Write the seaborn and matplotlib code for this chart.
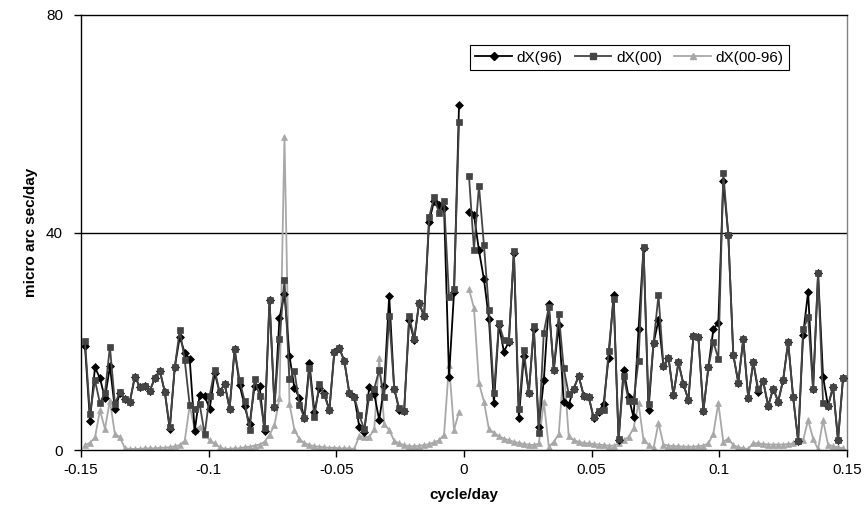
import numpy as np
import pandas as pd
import matplotlib
matplotlib.use("Agg")
import matplotlib.pyplot as plt
import seaborn as sns
from matplotlib.lines import Line2D

# frequency bin index (spacing 1/512 cycle/day), bin 0 missing
bin_index = list(range(-76, 77))

dx96 = [19.1, 5.4, 15.2, 13.2, 9.5, 15.4, 7.5, 10.4, 9.4, 8.9,
        13.5, 11.6, 11.8, 10.9, 13.2, 14.6, 10.7, 3.8, 15.2, 20.8,
        17.9, 16.7, 3.5, 10.2, 10.0, 7.5, 14.2, 10.6, 12.2, 7.6,
        18.5, 12.0, 8.1, 4.7, 11.7, 11.8, 3.5, 27.6, 8.0, 24.3,
        28.7, 17.3, 11.4, 9.6, 5.8, 16.0, 7.0, 11.4, 10.5, 7.3,
        18.0, 18.7, 16.4, 10.5, 9.8, 4.3, 3.4, 11.6, 10.3, 5.5,
        11.8, 28.4, 11.3, 7.4, 7.2, 23.9, 20.2, 27.0, 24.6, 42.0,
        45.8, 45.0, 44.5, 13.5, 29.0, 63.4, np.nan,
        43.8, 43.2, 36.7, 31.4, 24.1, 8.6, 23.0, 18.1, 19.9, 36.3,
        5.9, 17.2, 10.5, 22.2, 4.3, 12.8, 26.8, 14.7, 23.0, 8.9,
        8.3, 11.3, 13.6, 10.0, 9.8, 5.8, 7.0, 8.5, 17.0, 28.5,
        1.8, 14.8, 9.8, 6.0, 22.2, 37.1, 7.4, 19.6, 23.9, 15.4,
        17.0, 10.1, 16.1, 12.1, 9.2, 20.9, 20.7, 7.2, 15.2, 22.2,
        23.4, 49.5, 39.5, 17.5, 12.4, 20.4, 9.5, 16.2, 10.7, 12.6,
        8.1, 11.3, 8.9, 12.9, 19.9, 9.7, 1.7, 21.2, 29.1, 11.2,
        32.5, 13.4, 8.1, 11.6, 1.8, 13.2]

dx00 = [20.0, 6.6, 12.8, 8.6, 10.5, 19.0, 8.5, 10.7, 9.4, 8.9,
        13.5, 11.6, 11.8, 10.9, 13.2, 14.6, 10.7, 4.2, 15.2, 22.1,
        16.5, 8.2, 7.5, 8.4, 2.9, 10.0, 14.8, 10.6, 12.2, 7.6,
        18.5, 12.8, 9.1, 3.6, 13.0, 10.0, 4.0, 27.6, 8.0, 20.4,
        31.3, 13.0, 14.5, 8.3, 5.8, 15.0, 6.1, 12.2, 10.1, 7.3,
        18.1, 18.7, 16.4, 10.5, 9.8, 6.4, 3.8, 9.8, 11.3, 14.7,
        9.8, 24.6, 11.3, 7.7, 7.2, 24.6, 20.5, 27.1, 24.6, 42.8,
        46.5, 43.6, 45.8, 28.1, 29.6, 60.3, np.nan,
        50.4, 36.8, 48.6, 37.7, 25.8, 10.5, 23.3, 20.2, 20.0, 36.6,
        7.5, 18.4, 10.5, 22.8, 3.2, 21.6, 26.3, 14.7, 25.0, 15.0,
        10.3, 11.3, 13.6, 10.0, 9.8, 6.0, 7.2, 7.4, 18.2, 27.7,
        2.0, 13.6, 9.1, 9.1, 16.4, 37.4, 8.5, 19.7, 28.5, 15.4,
        17.0, 10.1, 16.1, 12.1, 9.2, 20.9, 20.7, 7.2, 15.2, 19.9,
        16.8, 51.0, 39.5, 17.5, 12.4, 20.4, 9.5, 16.2, 11.2, 12.6,
        8.1, 11.3, 8.9, 12.9, 19.9, 9.7, 1.7, 22.2, 24.4, 11.2,
        32.5, 8.6, 8.1, 11.6, 1.8, 13.2]

dx0096 = [0.9, 1.3, 2.3, 7.3, 3.9, 9.1, 2.9, 2.4, 0.3, 0.2,
          0.2, 0.2, 0.3, 0.3, 0.3, 0.4, 0.4, 0.5, 0.7, 0.9,
          1.7, 8.2, 3.7, 4.3, 2.8, 1.8, 1.2, 0.5, 0.2, 0.2,
          0.3, 0.3, 0.5, 0.6, 0.8, 1.0, 1.5, 2.8, 4.6, 9.5,
          57.6, 8.5, 3.7, 2.0, 1.3, 0.9, 0.7, 0.6, 0.5, 0.4,
          0.4, 0.3, 0.3, 0.3, 0.2, 2.6, 2.4, 2.4, 3.8, 17.0,
          4.7, 3.7, 1.7, 1.2, 0.9, 0.7, 0.7, 0.8, 0.9, 1.1,
          1.4, 1.8, 2.8, 15.7, 3.7, 7.0, np.nan,
          29.6, 26.1, 12.3, 8.9, 3.8, 3.2, 2.5, 2.1, 1.8, 1.5,
          1.3, 1.1, 1.0, 0.9, 1.2, 8.9, 0.6, 1.5, 2.9, 15.3,
          2.5, 1.8, 1.5, 1.3, 1.2, 1.1, 1.0, 0.9, 0.8, 0.8,
          1.2, 1.8, 2.4, 4.0, 8.6, 1.8, 1.0, 0.3, 5.0, 1.0,
          0.8, 0.7, 0.7, 0.6, 0.6, 0.6, 0.7, 0.8, 1.2, 3.0,
          8.6, 1.5, 2.1, 0.9, 0.5, 0.3, 0.2, 1.3, 1.2, 1.1,
          1.0, 1.0, 1.0, 1.0, 1.1, 1.2, 1.6, 1.8, 5.5, 2.1,
          0.1, 5.5, 1.0, 0.7, 0.5, 0.3]

series_names = ["dX(96)", "dX(00)", "dX(00-96)"]
colors = {"dX(96)": "#000000", "dX(00)": "#444444", "dX(00-96)": "#a8a8a8"}
markers = {"dX(96)": "D", "dX(00)": "s", "dX(00-96)": "^"}
msizes = {"dX(96)": 4.2, "dX(00)": 5.0, "dX(00-96)": 5.0}
zorders = {"dX(00-96)": 2, "dX(96)": 3, "dX(00)": 4}

k = np.array(bin_index)
freq = k / 512.0
side = np.where(k < 0, "neg", "pos")

frames = []
for name, vals in zip(series_names, [dx96, dx00, dx0096]):
    frames.append(pd.DataFrame({"freq": freq, "value": vals, "series": name, "side": side}))
df = pd.concat(frames, ignore_index=True).dropna()

fig = plt.figure(figsize=(8.68, 5.30), dpi=100)
ax = fig.add_axes([81 / 868, (530 - 450) / 530, 766 / 868, 435 / 530])

for name in ["dX(00-96)", "dX(96)", "dX(00)"]:
    sub = df[df["series"] == name]
    sns.lineplot(data=sub, x="freq", y="value", units="side", estimator=None,
                 color=colors[name], marker=markers[name], markersize=msizes[name],
                 markeredgecolor=colors[name], markeredgewidth=0.5,
                 linewidth=1.3, legend=False, ax=ax, zorder=zorders[name])

ax.set_xlim(-0.15, 0.15)
ax.set_ylim(0, 80)
ax.set_xticks([-0.15, -0.1, -0.05, 0, 0.05, 0.1, 0.15])
ax.set_xticklabels(["-0.15", "-0.1", "-0.05", "0", "0.05", "0.1", "0.15"])
ax.set_yticks([0, 40, 80])
ax.set_yticklabels(["0", "40", "80"])
ax.axhline(40, color="black", lw=1.0, zorder=1)

for s in ["left", "bottom", "top"]:
    ax.spines[s].set_color("black")
    ax.spines[s].set_linewidth(1.0)
ax.spines["right"].set_color("#808080")
ax.spines["right"].set_linewidth(1.0)

ax.tick_params(axis="both", direction="out", length=5, width=1.0,
               labelsize=11, colors="black", pad=4)
ax.tick_params(axis="y", pad=8)
for lab in ax.get_xticklabels() + ax.get_yticklabels():
    lab.set_family(["Liberation Sans", "DejaVu Sans"])

ax.set_xlabel("cycle/day", fontsize=11, fontweight="bold",
              family=["Liberation Sans", "DejaVu Sans"], labelpad=8)
ax.set_ylabel("micro arc sec/day", fontsize=11, fontweight="bold",
              family=["Liberation Sans", "DejaVu Sans"], labelpad=6)

handles = [Line2D([], [], color=colors[n], marker=markers[n], markersize=msizes[n],
                  markeredgecolor=colors[n], lw=1.3) for n in series_names]
leg = ax.legend(handles, series_names, loc="center", bbox_to_anchor=(0.716, 0.902),
                ncol=3, frameon=True, fancybox=False, edgecolor="black",
                framealpha=1, handlelength=2.4, handletextpad=0.3, columnspacing=0.8,
                borderpad=0.35, prop={"family": ["Liberation Sans", "DejaVu Sans"], "size": 11})
leg.get_frame().set_linewidth(0.8)

fig.savefig("out.png", dpi=100, facecolor="white")
